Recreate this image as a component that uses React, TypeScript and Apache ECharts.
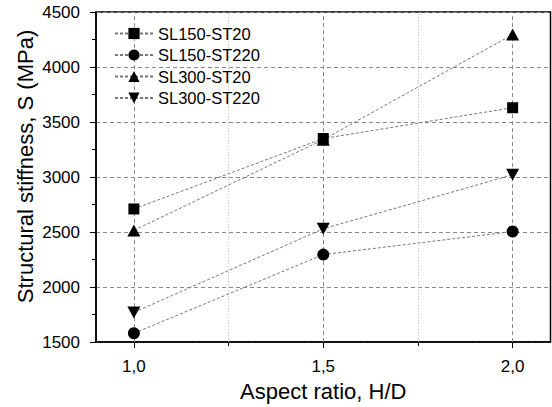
import React, { useEffect, useRef } from "react";
import * as echarts from "echarts";

const xValues = [1.0, 1.5, 2.0];
const xMajorTicks = [1.0, 1.5, 2.0];
const xMinorTicks = [1.25, 1.75];
const seriesNames = ["SL150-ST20", "SL150-ST220", "SL300-ST20", "SL300-ST220"];
const sl150st20 = [2710, 3350, 3630];
const sl150st220 = [1580, 2295, 2505];
const sl300st20 = [2515, 3340, 4295];
const sl300st220 = [1770, 2530, 3020];

const FONT = "Liberation Sans, Arial, sans-serif";

export default function App() {
  const ref = useRef<HTMLDivElement>(null);
  useEffect(() => {
    if (!ref.current) return;
    const chart = echarts.init(ref.current, null, { renderer: "svg" });
    const pair = (ys: number[]) => xValues.map((x, i) => [x, ys[i]]);
    const lineStyle = { color: "#777", width: 1, type: [3, 2] as number[] };
    const mk = (name: string, ys: number[], symbol: string, size: any, rotate = 0) => ({
      name,
      type: "line",
      data: pair(ys),
      symbol,
      symbolSize: size,
      symbolRotate: rotate,
      itemStyle: { color: "#000" },
      lineStyle,
      z: 5,
    });
    const s = [
      mk(seriesNames[0], sl150st20, "rect", 11),
      mk(seriesNames[1], sl150st220, "circle", 12),
      mk(seriesNames[2], sl300st20, "triangle", [13, 12]),
      mk(seriesNames[3], sl300st220, "triangle", [13, 12], 180),
    ];
    (s[0] as any).markLine = {
      silent: true,
      symbol: "none",
      label: { show: false },
      animation: false,
      data: [
        ...xMajorTicks.map((v) => ({ xAxis: v, lineStyle: { color: "#888", width: 1, type: [4, 3] } })),
        ...xMinorTicks.map((v) => ({ xAxis: v, lineStyle: { color: "#bbb", width: 1, type: [1, 2] } })),
      ],
      z: 1,
    };
    chart.setOption({
      animation: false,
      textStyle: { fontFamily: FONT },
      grid: {
        left: 96,
        top: 12,
        right: 1.5,
        bottom: 59,
        containLabel: false,
        show: true,
        borderColor: "#000",
        borderWidth: 1.5,
        backgroundColor: "transparent",
      },
      legend: {
        orient: "vertical",
        left: 114,
        top: 25,
        padding: 0,
        itemWidth: 38,
        itemHeight: 14,
        itemGap: 4.5,
        data: seriesNames,
        textStyle: { fontSize: 16.5, color: "#000", fontFamily: FONT },
      },
      xAxis: [
        {
          type: "value",
          min: 0.9,
          max: 2.1,
          name: "Aspect ratio, H/D",
          nameLocation: "middle",
          nameGap: 21,
          nameTextStyle: { fontSize: 22, color: "#000", fontFamily: FONT },
          axisLine: { show: true, lineStyle: { color: "#000", width: 1.5 } },
          axisTick: { show: true, length: 6, customValues: xMajorTicks, lineStyle: { color: "#000", width: 1 } },
          axisLabel: {
            customValues: xMajorTicks,
            margin: 16,
            fontSize: 17,
            color: "#000",
            fontFamily: FONT,
            formatter: (v: number) => v.toFixed(1).replace(".", ","),
          },
          splitLine: { show: false },
        },
        {
          type: "value",
          min: 0.9,
          max: 2.1,
          position: "bottom",
          axisLine: { show: false },
          axisTick: { show: true, length: 4, customValues: xMinorTicks, lineStyle: { color: "#000", width: 1 } },
          axisLabel: { show: false },
          splitLine: { show: false },
        },
      ],
      yAxis: {
        type: "value",
        min: 1500,
        max: 4500,
        interval: 500,
        axisLine: { show: true, lineStyle: { color: "#000", width: 1.5 } },
        axisTick: { show: true, length: 6, lineStyle: { color: "#000", width: 1 } },
        minorTick: { show: true, splitNumber: 2, length: 4, lineStyle: { color: "#000", width: 1 } },
        axisLabel: {
          margin: 16,
          fontSize: 17,
          color: "#000",
          fontFamily: FONT,
          formatter: (v: number) => String(v),
        },
        splitLine: { show: true, lineStyle: { color: "#888", width: 1, type: [4, 3] } },
      },
      graphic: [
        {
          type: "text",
          x: 25,
          y: 166.5,
          rotation: Math.PI / 2,
          style: {
            text: "Structural stiffness, S (MPa)",
            fontSize: 22,
            fontFamily: FONT,
            fill: "#000",
            textAlign: "center",
            textVerticalAlign: "middle",
          },
        },
      ],
      series: s,
    });
    return () => chart.dispose();
  }, []);
  return (
    <div
      ref={ref}
      style={{ width: 552, height: 407, position: "fixed", left: 0, top: 0, background: "#fff" }}
    />
  );
}
